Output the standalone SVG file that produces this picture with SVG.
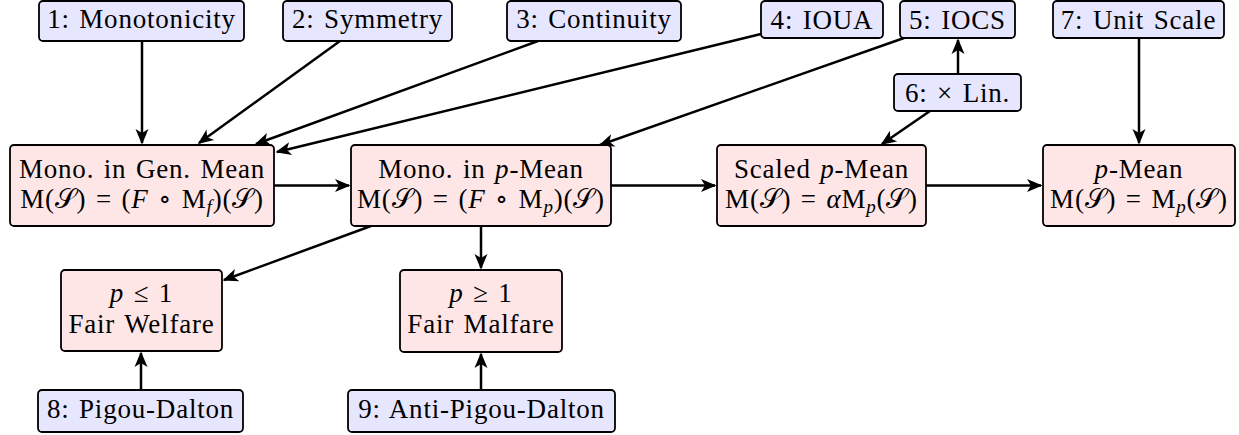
<svg xmlns="http://www.w3.org/2000/svg" width="1239" height="435" viewBox="0 0 1239 435">
<defs>
<style>
.ax{fill:#E6E6FF;stroke:#000;stroke-width:1.8}
.rs{fill:#FFE6E6;stroke:#000;stroke-width:1.8}
text{font-family:Liberation Serif,DejaVu Serif,serif;font-size:27px;fill:#000;text-anchor:middle;letter-spacing:0.8px;word-spacing:2px}
.i{font-style:italic}
.sb{font-style:italic;font-size:19px}
.c line{stroke:#000;stroke-width:2.5;marker-end:url(#ah)}
</style>
<marker id="ah" markerUnits="userSpaceOnUse" markerWidth="18" markerHeight="16" refX="0" refY="0" viewBox="-16 -8 18 16" orient="auto">
<path d="M1.5,0 L-14,-6.5 L-10,0 L-14,6.5 Z" fill="#000"/>
</marker>
</defs>
<rect width="1239" height="435" fill="#fff"/>

<g id="connectors" class="c">
<line x1="142" y1="41" x2="142" y2="143"/>
<line x1="340" y1="41" x2="199" y2="143"/>
<line x1="538" y1="41" x2="256" y2="144"/>
<line x1="761" y1="34" x2="277" y2="152"/>
<line x1="904" y1="38" x2="600" y2="145"/>
<line x1="958" y1="74" x2="958" y2="40"/>
<line x1="930" y1="111" x2="882" y2="144"/>
<line x1="1139" y1="38" x2="1139" y2="143"/>
<line x1="274" y1="185.5" x2="349" y2="185.5"/>
<line x1="611" y1="185.5" x2="715" y2="185.5"/>
<line x1="926" y1="185.5" x2="1041" y2="185.5"/>
<line x1="481" y1="226" x2="481" y2="268"/>
<line x1="371" y1="226" x2="224" y2="280"/>
<line x1="141" y1="390" x2="141" y2="353"/>
<line x1="481" y1="390" x2="481" y2="354"/>
</g>

<g id="n1"><rect class="ax" x="39" y="1" width="205" height="40" rx="4"/><text x="141.5" y="28">1: Monotonicity</text></g>
<g id="n2"><rect class="ax" x="283" y="1" width="169" height="40" rx="4"/><text x="367.5" y="28">2: Symmetry</text></g>
<g id="n3"><rect class="ax" x="507" y="1" width="174" height="40" rx="4"/><text x="594" y="28">3: Continuity</text></g>
<g id="n4"><rect class="ax" x="761" y="1" width="122" height="37" rx="4"/><text x="822" y="29">4: IOUA</text></g>
<g id="n5"><rect class="ax" x="900" y="1" width="115" height="37" rx="4"/><text x="957.5" y="29">5: IOCS</text></g>
<g id="n6"><rect class="ax" x="894" y="74" width="127" height="37" rx="4"/><text x="957.5" y="102">6: × Lin.</text></g>
<g id="n7"><rect class="ax" x="1053" y="1" width="171" height="37" rx="4"/><text x="1138.5" y="29">7: Unit Scale</text></g>

<g id="genmean"><rect class="rs" x="10" y="145" width="264" height="81" rx="4"/>
<text x="142" y="178">Mono. in Gen. Mean</text>
<text x="142" y="208">M(𝒮) = (<tspan class="i">F</tspan> ∘ M<tspan class="sb" dy="5">f</tspan><tspan dy="-5">)(𝒮)</tspan></text></g>

<g id="monop"><rect class="rs" x="351" y="145" width="260" height="81" rx="4"/>
<text x="481" y="178">Mono. in <tspan class="i">p</tspan>-Mean</text>
<text x="481" y="208">M(𝒮) = (<tspan class="i">F</tspan> ∘ M<tspan class="sb" dy="5">p</tspan><tspan dy="-5">)(𝒮)</tspan></text></g>

<g id="scaled"><rect class="rs" x="717" y="145" width="209" height="81" rx="4"/>
<text x="821.5" y="178">Scaled <tspan class="i">p</tspan>-Mean</text>
<text x="821.5" y="208">M(𝒮) = <tspan class="i">α</tspan>M<tspan class="sb" dy="5">p</tspan><tspan dy="-5">(𝒮)</tspan></text></g>

<g id="pmean"><rect class="rs" x="1043" y="145" width="192" height="81" rx="4"/>
<text x="1139" y="178"><tspan class="i">p</tspan>-Mean</text>
<text x="1139" y="208">M(𝒮) = M<tspan class="sb" dy="5">p</tspan><tspan dy="-5">(𝒮)</tspan></text></g>

<g id="welfare"><rect class="rs" x="61" y="270" width="161" height="81" rx="4"/>
<text x="141.5" y="302"><tspan class="i">p</tspan> ≤ 1</text>
<text x="141.5" y="333">Fair Welfare</text></g>

<g id="malfare"><rect class="rs" x="400" y="270" width="162" height="82" rx="4"/>
<text x="481" y="302"><tspan class="i">p</tspan> ≥ 1</text>
<text x="481" y="333">Fair Malfare</text></g>

<g id="n8"><rect class="ax" x="38" y="390" width="205" height="42" rx="4"/><text x="140.5" y="418">8: Pigou-Dalton</text></g>
<g id="n9"><rect class="ax" x="348" y="390" width="267" height="42" rx="4"/><text x="481.5" y="418">9: Anti-Pigou-Dalton</text></g>
</svg>
